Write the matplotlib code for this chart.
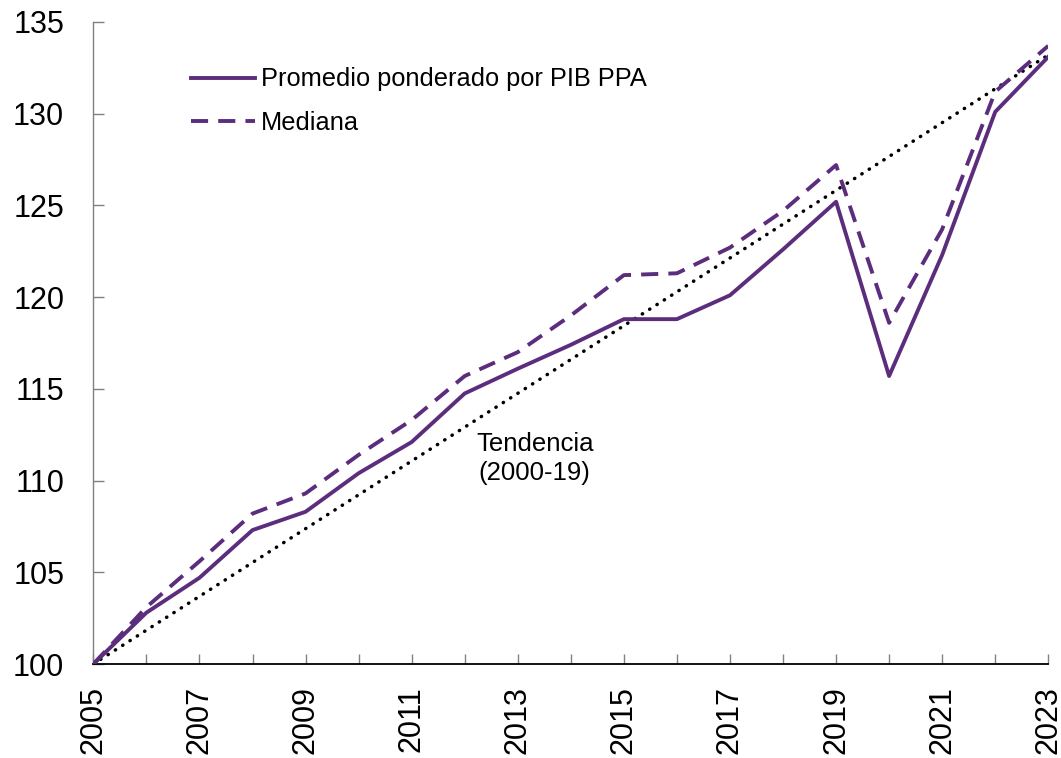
import numpy as np
import matplotlib
matplotlib.use('Agg')
import matplotlib.pyplot as plt

plt.rcParams['font.family'] = ['Liberation Sans', 'DejaVu Sans']

# datos (indice 2005 = 100)
anios = list(range(2005, 2024))
promedio = [100.0, 102.8, 104.7, 107.3, 108.3, 110.4, 112.1, 114.75, 116.1, 117.4,
            118.8, 118.8, 120.1, 122.6, 125.2, 115.7, 122.3, 130.1, 133.1]
mediana = [100.0, 103.1, 105.6, 108.2, 109.3, 111.4, 113.3, 115.7, 117.0, 119.0,
           121.2, 121.3, 122.7, 124.7, 127.2, 118.6, 123.7, 131.2, 133.7]
tend_anios = [2005, 2023]
tendencia = [100.0, 133.2]

morado = '#5C2D7D'

fig = plt.figure(figsize=(10.61, 7.58), dpi=100)
ax = fig.add_axes([0.088, 0.124, 0.900, 0.847])

ax.plot(tend_anios, tendencia, color='black', lw=2.5, linestyle=(0, (0.1, 2.4)),
        dash_capstyle='round', zorder=2)
ax.plot(anios, promedio, color=morado, lw=2.8, label='Promedio ponderado por PIB PPA', zorder=3)
ax.plot(anios, mediana, color=morado, lw=2.8, linestyle=(0, (4.4, 2.6)),
        label='Mediana', zorder=3)

ax.text(2013.32, 111.2, 'Tendencia\n(2000-19)', ha='center', va='center',
        fontsize=18.5, linespacing=1.3)

ax.set_xlim(2005, 2023)
ax.set_ylim(100, 135)
ax.set_yticks(np.arange(100, 136, 5))
ax.set_xticks(anios)
ax.set_xticklabels([str(a) if a % 2 == 1 else '' for a in anios], rotation=90)

ax.tick_params(axis='y', direction='in', length=8, width=1, color='#808080',
               labelsize=22, pad=21)
ax.tick_params(axis='x', direction='in', length=7, width=1, color='#808080',
               labelsize=22, pad=16)

for s in ['top', 'right']:
    ax.spines[s].set_visible(False)
ax.spines['left'].set_color('#808080')
ax.spines['left'].set_linewidth(1)
ax.spines['bottom'].set_color('black')
ax.spines['bottom'].set_linewidth(1.3)

ax.legend(loc='upper left', bbox_to_anchor=(0.092, 0.945), frameon=False,
          fontsize=18.3, handlelength=2.5, handletextpad=0.25, labelspacing=0.76,
          borderaxespad=0)

fig.savefig('out.png', dpi=100)
